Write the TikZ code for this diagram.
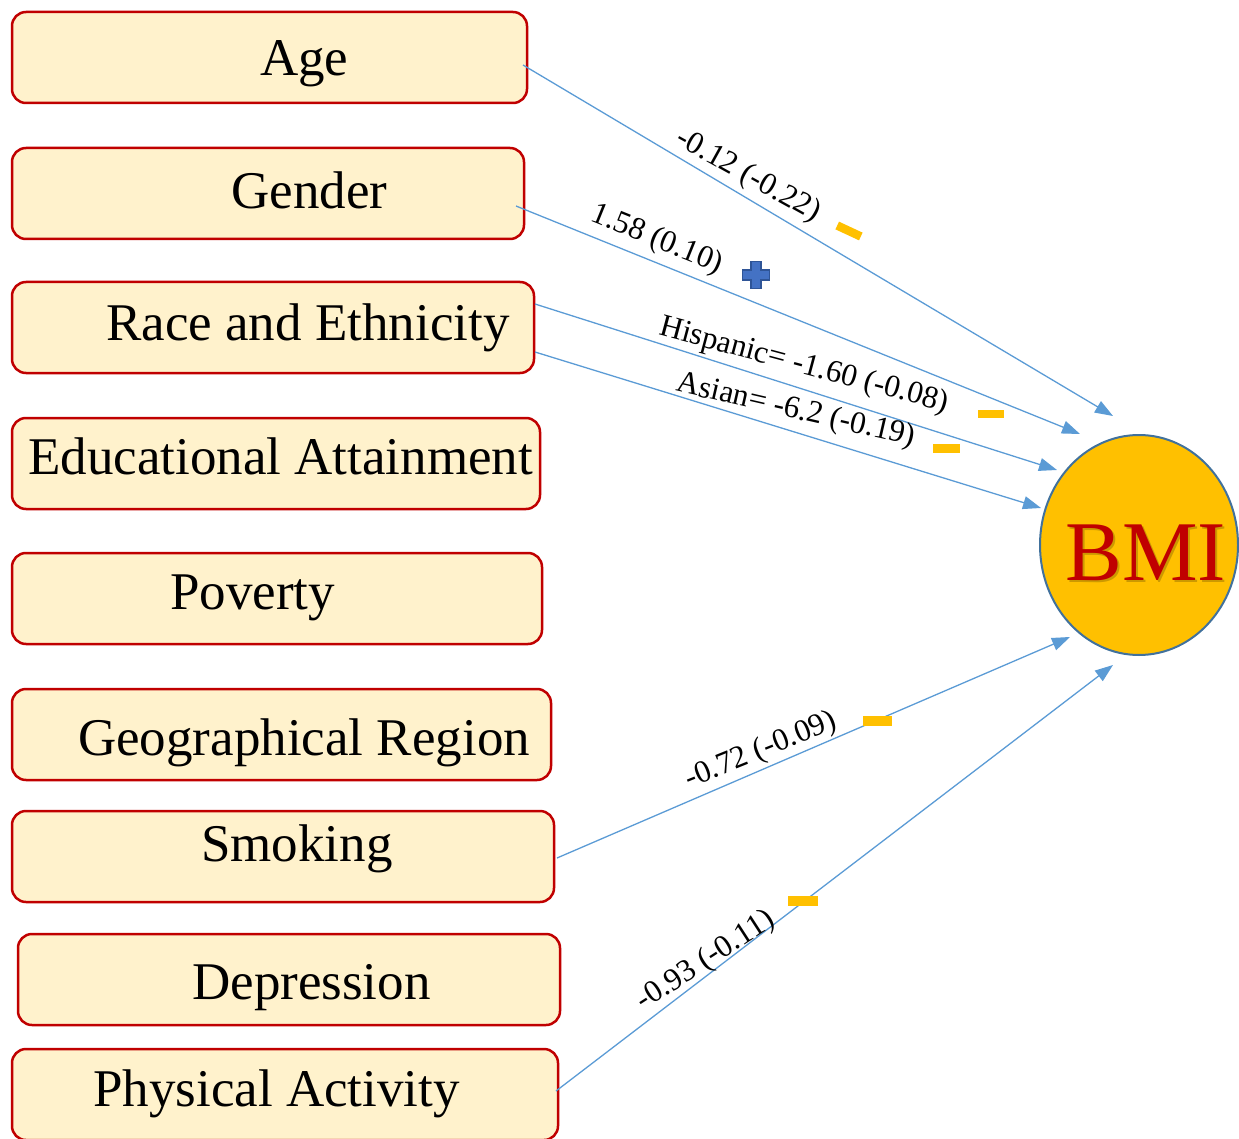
\documentclass[tikz,border=0pt]{standalone}
\usepackage{fontspec}
\setmainfont{Liberation Serif}
\usetikzlibrary{arrows.meta,calc,shapes.geometric}
\definecolor{boxfill}{HTML}{FFF2CC}
\definecolor{boxline}{HTML}{C00000}
\definecolor{arrowblue}{HTML}{5B9BD5}
\definecolor{gold}{HTML}{FFC000}
\definecolor{plusfill}{HTML}{4472C4}
\definecolor{plusline}{HTML}{2F5597}
\definecolor{circline}{HTML}{41719C}
\definecolor{bmired}{HTML}{C00000}
\begin{document}
\begin{tikzpicture}[x=1pt,y=-1pt,
  factorbox/.style={draw=boxline, fill=boxfill, line width=2.5pt, rounded corners=14pt, inner sep=0pt, outer sep=0pt},
  factortext/.style={anchor=base west, inner sep=0pt, font=\fontsize{53}{60}\selectfont},
  link/.style={draw=arrowblue, line width=1.3pt, -{Triangle[length=18pt,width=13pt]}},
  coef/.style={font=\fontsize{31.5}{35}\selectfont, inner sep=0pt},
  minusbar/.style={fill=gold, minimum width=26pt, minimum height=8.5pt, inner sep=0pt, outer sep=0pt},
]
\useasboundingbox (0,0) rectangle (1239,1139);
\clip (0,0) rectangle (1239,1139);

% factor boxes
\node[factorbox, minimum width=515pt, minimum height=91pt] (age)    at (269.5,57.5) {};
\node[factorbox, minimum width=512pt, minimum height=91pt] (gender) at (268,193.5) {};
\node[factorbox, minimum width=522pt, minimum height=91pt] (race)   at (273,327.5) {};
\node[factorbox, minimum width=528pt, minimum height=91pt] (edu)    at (276,463.5) {};
\node[factorbox, minimum width=530pt, minimum height=91pt] (pov)    at (277,598.5) {};
\node[factorbox, minimum width=539pt, minimum height=91pt] (geo)    at (281.5,734.5) {};
\node[factorbox, minimum width=542pt, minimum height=91pt] (smok)   at (283,856.5) {};
\node[factorbox, minimum width=542pt, minimum height=91pt] (dep)    at (289,979.5) {};
\node[factorbox, minimum width=546pt, minimum height=91pt] (phys)   at (285,1094.5) {};

% factor texts
\node[factortext] (tage)    at (260,76)   {Age};
\node[factortext] (tgender) at (231,209)  {Gender};
\node[factortext] (trace)   at (106,341)  {Race and Ethnicity};
\node[factortext] (tedu)    at (28,474)   {Educational Attainment};
\node[factortext] (tpov)    at (170,609)  {Poverty};
\node[factortext] (tgeo)    at (78,755)   {Geographical Region};
\node[factortext] (tsmok)   at (201,861)  {Smoking};
\node[factortext] (tdep)    at (192,999)  {Depression};
\node[factortext] (tphys)   at (93,1106)  {Physical Activity};

% outcome
\node[ellipse, draw=circline, fill=gold, line width=2pt, minimum width=198pt, minimum height=220pt, inner sep=0pt, outer sep=0pt] (bmi) at (1139,545) {};
\node[anchor=base, inner sep=0pt, text=black, opacity=0.2, font=\fontsize{85}{90}\selectfont] (bmishadow) at (1148,582) {BMI};
\node[anchor=base, inner sep=0pt, text=bmired, font=\fontsize{85}{90}\selectfont] (bmitext) at (1146,580) {BMI};

% connectors
\draw[link] ($(age.east)+(-4,7.5)$)     -- ($(bmi)+(-26,-129)$);
\draw[link] ($(gender.east)+(-8,12.5)$) -- ($(bmi)+(-59,-111)$);
\draw[link] ($(race.east)+(1,-23.5)$)   -- ($(bmi)+(-82,-75)$);
\draw[link] ($(race.east)+(1,24.5)$)    -- ($(bmi)+(-98,-37)$);
\draw[link] ($(smok.east)+(3,1.5)$)     -- ($(bmi)+(-69,92)$);
\draw[link] ($(phys.east)+(-2,-3.5)$)   -- ($(bmi)+(-26,120)$);

% coefficient labels
\node[coef, rotate=-29] (cage)    at (748,176) {-0.12 (-0.22)};
\node[coef, rotate=-22] (cgender) at (657,240) {1.58 (0.10)};
\node[coef, rotate=-15] (chisp)   at (804,366) {Hispanic= -1.60 (-0.08)};
\node[coef, rotate=-13] (casian)  at (796,411) {Asian= -6.2 (-0.19)};
\node[coef, rotate=22]  (csmok)   at (761,751) {-0.72 (-0.09)};
\node[coef, rotate=33]  (cphys)   at (706,961) {-0.93 (-0.11)};

% sign markers
\node[minusbar, rotate=-25] (mage)   at (849,231) {};
\node[minusbar] (mhisp)  at (991,414) {};
\node[minusbar, minimum width=27pt, minimum height=9pt] (masian) at (946,448) {};
\node[minusbar, minimum width=29pt, minimum height=10pt] (msmok)  at (877,721) {};
\node[minusbar, minimum width=30pt, minimum height=10.5pt] (mphys)  at (803,901) {};
\coordinate (pgender) at (756,275);
\filldraw[fill=plusfill, draw=plusline, line width=1.5pt, shift={(pgender)}]
  (-5,-13.5) -- (5,-13.5) -- (5,-5) -- (13.5,-5) -- (13.5,5) -- (5,5)
  -- (5,13.5) -- (-5,13.5) -- (-5,5) -- (-13.5,5) -- (-13.5,-5) -- (-5,-5) -- cycle;
\end{tikzpicture}
\end{document}
